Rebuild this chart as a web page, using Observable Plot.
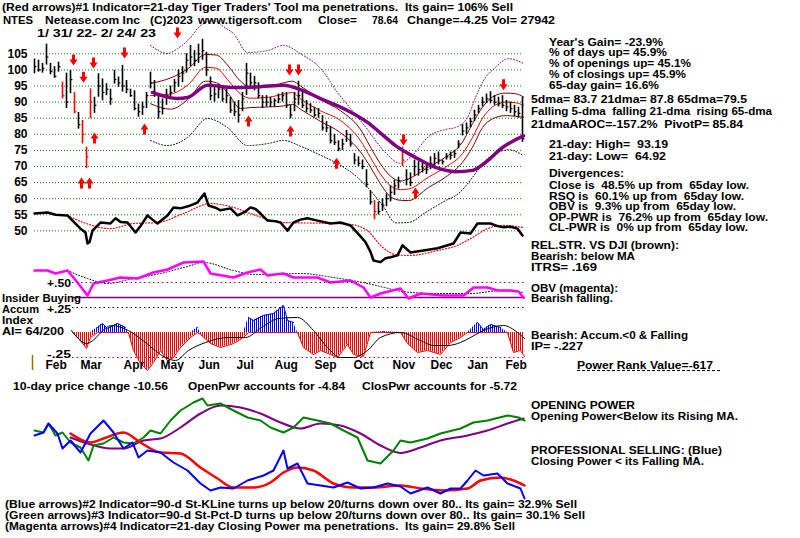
<!DOCTYPE html>
<html><head><meta charset="utf-8">
<script src="https://cdn.jsdelivr.net/npm/d3@7"></script>
<script src="https://cdn.jsdelivr.net/npm/@observablehq/plot@0.6"></script>
<style>
html,body{margin:0;padding:0;background:#fff;}
#chart{position:relative;width:800px;height:538px;overflow:hidden;font-family:"Liberation Sans",Arial,sans-serif;background:#fff;}
#chart svg{position:absolute;left:0;top:0;}
.t{position:absolute;white-space:pre;font-weight:bold;font-size:11px;line-height:9px;color:#000;transform-origin:0 0;}
</style></head><body><div id="chart"></div>
<script>
// ---------- DATA (time index t: one step ≈ 2 sessions, 1/31/22 .. 2/24/23) ----------
const priceTicks = [50,55,60,65,70,75,80,85,90,95,100,105];
const barHigh = [103.4,103,102,108,102,101,102.4,96.2,99,99.8,93,86.8,84.3,76,94.1,91.5,98.8,97.2,95.7,94,99.8,97.8,101.4,96.7,94,93.5,89.4,90,93,99.3,96.7,92,91,94,95,97,100,101,105,107.6,106,108,109.5,105.5,97.8,95,95.5,95,94,91.5,90,90.5,93,102,99,98,96,92,92,91.5,91,92.5,93,93,89,93,96.5,93,90.5,89.5,88.4,88,85.8,84,82.5,80,78,78.5,81.2,80,74,73,72,69,62.5,59.4,59,60,61.5,64,65.7,66.7,76,69,68,72,71.5,71,70.5,73,74,74.5,72,74,74.5,75,78,83,83.5,85,87.5,89,91.5,92.5,93.2,92,91.5,92,90.5,90,89,88.4,91.5];
const barLow = [98.8,99.3,99,101.5,98.5,97.4,99.3,91,88,92.6,86.4,81.6,77,69.3,84.8,86.5,91.5,90.4,92,89,95.6,94.6,93.1,92.6,91.5,87.3,85.3,85.8,88,94.1,91.5,84.7,86,89,91.5,93,94.6,96,99,101,101,102,103,98,90.4,90,91,90,89.5,86.5,85.5,83.5,87,92,94,93.5,91,88,88.5,88.3,88.5,89.5,90,88,84.8,87,89,88,86.7,86.5,85.3,85,81,80.5,77,76.5,74.6,75,77.5,76,70.5,70,69,63.4,58,53.5,55,56,57.5,59,61,63,70,64,63.7,67,67,68,67.5,69,70,70.5,70.5,72,72,72.5,75.5,79.5,80,82,84,86.5,88.5,89.5,89.5,89,88.5,88,87,86.5,85.5,85,77.5];
const barClose = [101,100,100.5,104,99.5,98,101,92,90,97,87,83,80,73,90,89,95,93,94,91,97,96,95,94,92,88,87,88.5,92,96,93,87,88,92,93,96,98,99,103,104,103,105,106,100,92,92.5,94,91,92,87.5,87,86,91,99,96,96,92,90,90,90,90.5,91,92,89,86,91,92,89,88,87.5,86,86.5,82,82,78,77.5,75.5,77,80,77,72,71,70,64.5,59,56,56,58,60,62,64,65.5,72,66,65,70,69,69.5,69,71,72.5,72,71.5,73,73.5,74,77,81,82,84,86,88,90,91,90.5,90,89.5,89,88.5,88,87,86.5,78.64];
const redBars = [7,10,12,13,14,85,92];

const maT  = [29,34,38.5,42.75,45.5,48.25,51.5,54,58.5,62.25,64.5,66.5,71.5,76.5,81.5,84,86.5,89,91.5,93.5,98.5,102.75,107,109.5,112,114.5,117.75,120.25,122.25];
const ma21 = [92.0,92.5,95.5,100.8,100.5,97.0,92.5,91.2,91.5,92.5,93.0,91.0,87.3,84.3,78.0,72.8,67.6,64.0,62.8,63.0,66.7,69.8,74.0,79.0,85.0,88.5,90.0,89.8,89.0];
const band21Up = [95.8,97.5,100.5,104.8,104.6,101.5,96.5,94.6,94.8,96.0,96.5,95.0,90.8,87.3,81.5,76.0,70.8,67.0,65.5,66.2,69.8,72.9,77.6,83.3,88.4,91.6,92.8,92.6,91.6];
const band21Lo = [89.5,87.8,91.0,96.5,96.0,93.0,88.0,88.3,88.5,88.8,89.3,87.8,84.0,80.5,74.5,69.8,64.6,60.6,59.5,59.4,63.5,66.7,71.3,76.0,82.1,84.8,85.8,85.6,85.3];

const ma65T = [29.5,35.75,38.25,43.25,49.75,56.5,62.25,66.5,71.5,78.25,83.25,87.25,90.25,95.25,100.25,105.25,109.5,112.75,117,122.25];
const ma65  = [93.0,91.1,91.4,95.2,94.5,94.8,95.2,93.9,91.1,87.4,83.7,79.6,76.5,72.8,69.7,68.4,68.8,71.3,75.9,79.5];

const envUpT = [29,33.25,35.75,39,41.5,44.75,47.75,49.75,53.25,58.25,62.25,66.5,71.5,75.75,79,83.25,87.25,91.5,94.5,98.5,102.75,105.25,108.25,110.25,112.25,115.25,118.5,122.25];
const envUp  = [107.6,105.1,106.6,110,113.8,115.3,113,111.3,105.4,106,107.6,105,100.5,93,88,81.5,75,71,73.5,79.3,81.5,82.1,85.2,91.4,96.7,100.8,103.5,102];
const envLoT = [29,33.25,38.25,43.25,48.25,53.25,58.25,62.25,66.5,71.5,75.75,80.75,84,87.25,90.25,93.5,97.75,102.75,106,109.5,112,115.25,118.5,122.25];
const envLo  = [78.1,76.5,79,84.9,82.1,76.5,77.1,78.1,76.3,73.5,70.9,66.6,62.5,57.5,52.5,52.6,55.7,59.4,61.6,66.6,70.9,74,75.2,73.4];

const downT = [9.75,12.25,14.75,22.5,35.75,63.75,66,92.25,117.25];
const downP = [102.9,97.6,102,105.1,111.3,99.8,99.8,78.1,95.2];
const upT = [11.75,13.75,15,27.5,53.5,64,75.5,95.25];
const upP = [65,65,79,81.8,84.3,81.2,71.2,61.9];

// Relative strength vs DJI (drawn in the price panel)
const rsT = [0,3.25,5.25,8.25,9.5,11.5,12.75,13.25,13.75,14.5,16.5,19,20.25,21.5,23.25,25.25,26.5,28.25,29.5,30.75,33.25,34.75,36.5,39,40.75,41.5,42.5,43.5,45.25,46.5,49,50.75,52.5,54,55.25,56.5,58.25,60.25,61.5,63.25,64.75,66.5,68.25,70.75,74,76.5,79,81.5,82.75,84,84.75,86.5,87.75,89,90.75,92,94,97.25,100.75,104.75,106.5,109,110.75,114,115.75,117.25,119,120.75,122];
const rsV = [55.4,55.7,55.0,54.8,53.2,50.7,49.5,46.1,46.5,50.1,52.6,52.3,53.9,52.8,52.6,49.5,51.5,54.8,53.5,52.3,54.8,57.3,57.0,57.9,58.8,60.1,61.6,57.9,57.2,56.4,57.0,54.8,55.8,57.3,56.8,55.4,53.2,53.0,52.6,50.1,52.6,53.5,53.9,53.2,52.3,52.6,51.7,48.3,46.5,43.5,40.8,40.3,41.5,41.8,42.4,45.5,43.3,43.9,44.6,46.1,49.5,49.2,52.3,52.3,51.5,51.1,51.3,50.7,48.6];
const rsMaT = [8.25,12.25,19,24.75,30.75,37.25,44,49.75,54,62.25,74.75,79,83.25,86.5,90.75,94,100.75,105.75,109,113.25,117.25,122];
const rsMa  = [54.8,52.6,50.7,52.3,52.6,55.4,58.5,57.3,55.4,52.6,52.3,52.0,50.1,45.5,42.5,42.4,43.9,45.5,47.6,50.7,51.7,51.1];

// OBV (relative units)
const obvT = [0,3.25,5.25,8.25,10.75,13.25,14.75,18.25,21.5,25.75,29.75,33.25,37.25,42.25,44,49.75,53.25,56.5,58.25,62.25,64.75,70.75,74,79,82.25,84,86.5,91.5,93.5,96.5,102.25,107.25,109.75,113.25,115.75,119,121,122.25];
const obvV = [13.5,13.5,12,13.5,7.5,1,7,8.5,10,9.5,12.5,14,17.5,18,12,10,12.5,14,11,12,10,10,7.5,8.5,5,0,2,4.5,-0.5,2,1,1,5,5,3.5,3.5,3,0];
const obvMaT = [8.25,13.25,18.25,24.75,31.5,38.25,42.25,49.75,54.75,66.5,74.75,83.25,87.5,92,100,109,117,122.25];
const obvMa  = [13.5,9.5,7,9.5,12,15.5,17.5,13.5,11.5,12,10,7,5,3,2,2,3.5,2.5];

// Accumulation index
const aiT = [9.5,11.5,13,14,15.75,17,18.25,20.75,22.75,23.5,24.75,26.5,28.25,29.75,31.5,33.25,34.75,36.5,39,40.75,41.5,44,46.5,49.75,52.25,53.5,54.75,57.25,59.75,62.25,63.25,64.75,65.75,67.25,69.75,71.5,74,75.75,78.25,79.75,82.25,84,87.25,91.5,93.25,95.75,98.25,101.5,104,106.5,108.25,110.75,112.25,114,116.5,118.25,119.75,121.5,122.5];
const aiV = [0,-0.08,-0.16,-0.05,0.05,0.09,0.04,0.09,0.05,0,-0.18,-0.31,-0.38,-0.3,-0.18,-0.28,-0.25,-0.15,-0.05,0.05,-0.02,-0.11,-0.15,-0.11,-0.05,0.15,0.12,0.17,0.19,0.27,0.12,0.1,0,-0.15,-0.22,-0.18,-0.22,-0.25,-0.12,-0.22,-0.24,0,0.01,0,-0.11,-0.2,-0.18,-0.22,-0.1,-0.05,0,0.1,0.03,0.08,0.05,0,-0.2,-0.18,-0.24];
const aiMaT = [9.25,13,19.25,23.5,27.75,32.75,35.25,38.5,42.75,48.5,52.75,56.75,61,65.75,69.75,73.25,76.5,79.75,83.25,86.5,91.5,96.5,99.75,103.25,106.5,109,112.25,117.25,120.75,122.5];
const aiMa  = [0.02,-0.11,0.07,0.02,-0.1,-0.25,-0.28,-0.18,-0.1,-0.05,-0.05,0.05,0.14,0.15,0.02,-0.15,-0.25,-0.25,-0.18,-0.05,0,-0.08,-0.13,-0.13,-0.1,-0.05,0.02,0.07,0,-0.06];
const aiLevels = [0.5, 0.25, -0.25];

const monthLabels = ["Feb","Mar","Apr","May","Jun","Jul","Aug","Sep","Oct","Nov","Dec","Jan","Feb"];
const monthT = [2.75,11.5,22.25,31.5,41,50.5,60,70,79.75,89.5,99,108.25,117.75];

// Opening power / closing power (relative units)
const opT = [0,2.25,3.5,5.25,7,9,11.5,13.5,14.75,17.25,19.75,22.25,24.75,27.25,29,31.5,34,36.5,39.75,42,43.25,46.5,49.75,53.25,56.5,59,62.25,64.75,67.25,70.75,74,77.25,80.75,83.25,86.5,89.75,91.5,94,98.25,101.5,106.5,109.75,113.25,118.25,121,122.5];
const opV = [70,68,77,65,68,58,53,40,55,57,63,58,57,63,70,67,80,90,98,102,95,97,90,83,80,73,68,73,83,80,77,70,63,40,37,50,60,58,62,67,72,78,80,85,83,80];
const opMaT = [9,13.25,19,22.25,27.25,31.5,36.5,41.5,46.5,51.5,56.5,61.5,66.5,71.5,76.5,81.5,86.5,91.5,96.5,101.5,108.25,113.25,118.25,122.25];
const opMa  = [63,57,52,52,60,62,73,87,95,93,87,78,72,77,75,67,55,47.5,53,60,65,70,77,82];
const cpT = [0,2.25,3.5,5.75,7,9,11.5,14,17.25,19.75,22.25,24.5,26,28.25,31.5,34.75,38.25,41.5,44,46.5,49.75,53.25,57.25,59.75,62.25,63.25,65.75,68.25,71.5,74.75,78.25,81.5,84.75,88.25,91.5,94,98.25,101.5,104,106.5,108.25,110.25,112.25,115.75,118.25,121.5,122.5];
const cpV = [65,68,77,67,52,60,48,67,80,68,52,58,43,50,48,38,30,17,10,13,12,20,25,30,50,32,37,17,15,13,18,12,13,17,14,7,13,7,12,12,20,30,25,27,17,12,2];
const cpMaT = [9,14,17.25,22.25,26.5,31.5,36.5,41.5,45.75,49.75,54.75,59,62.25,65.75,69.75,74.75,79.75,84.75,91.5,96.5,102.25,108.25,111.5,116.5,119.75,122.5];
const cpMa  = [67,58,62,68,58,48,47,33,22,13,13,18,28,33,30,17,13,13,15,12,10,12,20,23,20,15];

// ---------- BUILD ----------
const pts = (ts, vs) => ts.map((t, i) => ({t, v: vs[i]}));
const bars = barHigh.map((h, i) => ({i, h, l: barLow[i], c: barClose[i], red: redBars.includes(i)}));
const FONT = '"Liberation Sans", Arial, sans-serif';
const base = (mt, mb) => ({
  width: 800, height: 538, marginLeft: 34, marginRight: 278, marginTop: mt, marginBottom: mb,
  x: {domain: [0, 122], axis: null},
  style: {background: "transparent", overflow: "visible", fontFamily: FONT, fontSize: "12px", fontWeight: "bold", color: "black"}
});

const arrowDown = {draw(ctx) {ctx.moveTo(-1.5,-6);ctx.lineTo(1.5,-6);ctx.lineTo(1.5,-1);ctx.lineTo(4,-1);ctx.lineTo(0,5);ctx.lineTo(-4,-1);ctx.lineTo(-1.5,-1);ctx.closePath();}};
const arrowUp = {draw(ctx) {ctx.moveTo(-1.5,6);ctx.lineTo(1.5,6);ctx.lineTo(1.5,1);ctx.lineTo(4,1);ctx.lineTo(0,-5);ctx.lineTo(-4,1);ctx.lineTo(-1.5,1);ctx.closePath();}};

const chart = document.getElementById("chart");

// Price panel
const pricePlot = Plot.plot({
  ...base(53.3, 307.6),
  y: {domain: [50, 105], ticks: priceTicks, tickSize: 0, tickPadding: 7, tickFormat: d => String(d), label: null},
  marks: [
    Plot.ruleY(priceTicks, {stroke: "#008000", strokeDasharray: "1,2", strokeWidth: 1}),
    Plot.line(pts(envLoT, envLo), {x: "t", y: "v", stroke: "black", strokeWidth: 1, strokeDasharray: "1,2", curve: "monotone-x"}),
    Plot.line(pts(envUpT, envUp), {x: "t", y: "v", stroke: "#800080", strokeWidth: 1, strokeDasharray: "1,2", curve: "monotone-x"}),
    Plot.line(pts(maT, band21Up), {x: "t", y: "v", stroke: "#800000", strokeWidth: 1, curve: "monotone-x"}),
    Plot.line(pts(maT, band21Lo), {x: "t", y: "v", stroke: "#800000", strokeWidth: 1, curve: "monotone-x"}),
    Plot.line(pts(maT, ma21), {x: "t", y: "v", stroke: "red", strokeWidth: 1, curve: "monotone-x"}),
    Plot.ruleX(bars, {x: "i", y1: "l", y2: "h", stroke: "black", strokeWidth: 1.6, filter: d => !d.red}),
    Plot.ruleY(bars, {y: "c", x1: "i", x2: d => d.i + 0.6, stroke: "black", strokeWidth: 1.2, filter: d => !d.red}),
    Plot.ruleX(bars, {x: "i", y1: "l", y2: "h", stroke: "red", strokeWidth: 1.6, filter: d => d.red}),
    Plot.ruleY(bars, {y: "c", x1: "i", x2: d => d.i + 0.6, stroke: "red", strokeWidth: 1.2, filter: d => d.red}),
    Plot.line(pts(ma65T, ma65), {x: "t", y: "v", stroke: "#800080", strokeWidth: 3.5, curve: "monotone-x"}),
    Plot.line(pts(rsMaT, rsMa), {x: "t", y: "v", stroke: "red", strokeWidth: 1.2, strokeDasharray: "1,2", curve: "monotone-x"}),
    Plot.line(pts(rsT, rsV), {x: "t", y: "v", stroke: "black", strokeWidth: 2.5}),
    Plot.dot(pts(downT, downP), {x: "t", y: "v", symbol: arrowDown, fill: "red", stroke: "none", r: 5}),
    Plot.dot(pts(upT, upP), {x: "t", y: "v", symbol: arrowUp, fill: "red", stroke: "none", r: 5})
  ]
});
chart.appendChild(pricePlot);

// OBV panel
const obvPlot = Plot.plot({
  ...base(257, 241),
  y: {domain: [0, 20], axis: null},
  marks: [
    Plot.ruleY([0], {x1: aiT[0], x2: 122.75, stroke: "#800080", strokeWidth: 1.5}),
    Plot.line(pts(obvMaT, obvMa), {x: "t", y: "v", stroke: "black", strokeWidth: 1, strokeDasharray: "1,2", curve: "monotone-x"}),
    Plot.line(pts(obvT, obvV), {x: "t", y: "v", stroke: "#ff00ff", strokeWidth: 2.5})
  ]
});
chart.appendChild(obvPlot);

// Accumulation index panel
const aiPts = pts(aiT, aiV);
const aiPlot = Plot.plot({
  ...base(307, 181),
  y: {domain: [-0.25, 0.25], axis: null},
  marks: [
    Plot.ruleY(aiLevels, {x1: aiT[0], x2: 122.75, stroke: d => d === 0.25 ? "black" : "#800080", strokeWidth: 1.2, strokeDasharray: "1.5,3"}),
    Plot.areaY(aiPts, {x: "t", y1: 0, y2: d => Math.min(0, d.v), fill: "url(#hatchR)"}),
    Plot.areaY(aiPts, {x: "t", y1: 0, y2: d => Math.max(0, d.v), fill: "url(#hatchB)"}),
    Plot.line(aiPts, {x: "t", y: d => Math.min(0, d.v), stroke: "red", strokeWidth: 1}),
    Plot.line(aiPts, {x: "t", y: d => d.v > 0 ? d.v : NaN, stroke: "blue", strokeWidth: 1}),
    Plot.line(pts(aiMaT, aiMa), {x: "t", y: "v", stroke: "black", strokeWidth: 1, curve: "monotone-x"}),
    Plot.ruleX([-0.5], {y1: -0.23, y2: -0.38, stroke: "#808000", strokeWidth: 1.5}),
    Plot.text(monthT, {x: d => d, text: (d, i) => monthLabels[i], frameAnchor: "bottom", dy: 11, textAnchor: "start", fontSize: 12, fontWeight: "bold", fill: "black"})
  ]
});
aiPlot.insertAdjacentHTML("afterbegin",
  '<defs><pattern id="hatchR" width="2" height="4" patternUnits="userSpaceOnUse"><rect x="0" y="0" width="1" height="4" fill="#ff0000"/></pattern>' +
  '<pattern id="hatchB" width="2" height="4" patternUnits="userSpaceOnUse"><rect x="0" y="0" width="1" height="4" fill="#0000ff"/></pattern></defs>');
chart.appendChild(aiPlot);

// Opening / closing power panel
const powPlot = Plot.plot({
  ...base(390, 38),
  y: {domain: [0, 110], axis: null},
  marks: [
    Plot.line(pts(opMaT, opMa), {x: "t", y: "v", stroke: "#800080", strokeWidth: 2, curve: "monotone-x"}),
    Plot.line(pts(opT, opV), {x: "t", y: "v", stroke: "#008000", strokeWidth: 2}),
    Plot.line(pts(cpMaT, cpMa), {x: "t", y: "v", stroke: "red", strokeWidth: 2.5, curve: "monotone-x"}),
    Plot.line(pts(cpT, cpV), {x: "t", y: "v", stroke: "blue", strokeWidth: 2})
  ]
});
chart.appendChild(powPlot);

// ---------- TEXT ----------
const texts = [
["(Red arrows)#1 Indicator=21-day Tiger Traders' Tool ma penetrations.  Its gain= 106% Sell",2,3,513],
["NTES",3,16,33],
["Netease.com Inc",45,16,140],
["(C)2023",150,16,193],
["www.tigersoft.com",198,16,302],
["Close=",318,16,357],
["78.64",372,16,398],
["Change=-4.25 Vol= 27942",407,16,555],
["1/ 31/ 22- 2/ 24/ 23",37,29,156],
["Year's Gain= -23.9%",549,38,663],
["% of days up= 45.9%",549,48,667],
["% of openings up= 45.1%",549,59,691],
["% of closings up= 45.9%",549,70,686],
["65-day gain= 16.6%",549,81,659],
["5dma= 83.7 21dma= 87.8 65dma=79.5",531,95,747],
["Falling 5-dma  falling 21-dma  rising 65-dma",531,107,772],
["21dmaAROC=-157.2%  PivotP= 85.84",531,120,743],
["21-day: High=  93.19",549,140,668],
["21-day: Low=  64.92",549,152,666],
["Divergences:",549,169,624],
["Close is  48.5% up from  65day low.",549,181,749],
["RSQ is  60.1% up from  65day low.",549,192,744],
["OBV is  9.3% up from  65day low.",549,202,736],
["OP-PWR is  76.2% up from  65day low.",549,213,768],
["CL-PWR is  0% up from  65day low.",549,223,748],
["REL.STR. VS DJI (brown):",531,241,679],
["Bearish: below MA",531,252,635],
["ITRS= .169",531,263,597],
["OBV (magenta):",531,284,618],
["Bearish falling.",531,294,613],
["Bearish: Accum.<0 & Falling",531,331,688],
["IP= -.227",531,342,583],
["Power Rank Value=-617",577,361,713],
["+.50",47,279,71],
["Insider Buying",2,294,81],
["Accum",2,305,39],
["+.25",47,305,71],
["Index",2,316,33],
["AI= 64/200",2,327,64],
["-.25",47,350,71],
["10-day price change -10.56",13,382,168],
["OpenPwr accounts for -4.84",188,382,345],
["ClosPwr accounts for -5.72",362,382,517],
["OPENING POWER",531,401,635],
["Opening Power<Below its Rising MA.",531,412,738],
["PROFESSIONAL SELLING: (Blue)",531,446,722],
["Closing Power < its Falling MA.",531,457,704],
["(Blue arrows)#2 Indicator=90-d St-KLine turns up below 20/turns down over 80.. Its gain= 32.9% Sell",5,500,577],
["(Green arrows)#3 Indicator=90-d St-Pct-D turns up below 20/turns down over 80.. Its gain= 30.1% Sell",5,511,585],
["(Magenta arrows)#4 Indicator=21-day Closing Power ma penetrations.  Its gain= 29.8% Sell",5,522,515]
];
for (const [s, x, capTop, right] of texts) {
  const el = document.createElement("div");
  el.className = "t";
  el.textContent = s;
  el.style.left = x + "px";
  el.style.top = (capTop - 0.3) + "px";
  chart.appendChild(el);
  const w = el.getBoundingClientRect().width;
  if (w > 0) el.style.transform = `scaleX(${(right - x) / w})`;
}
const ul = document.createElement("div");
ul.style.cssText = "position:absolute;left:577px;top:370px;width:143px;border-top:1px dashed #000;";
chart.appendChild(ul);
</script></body></html>
